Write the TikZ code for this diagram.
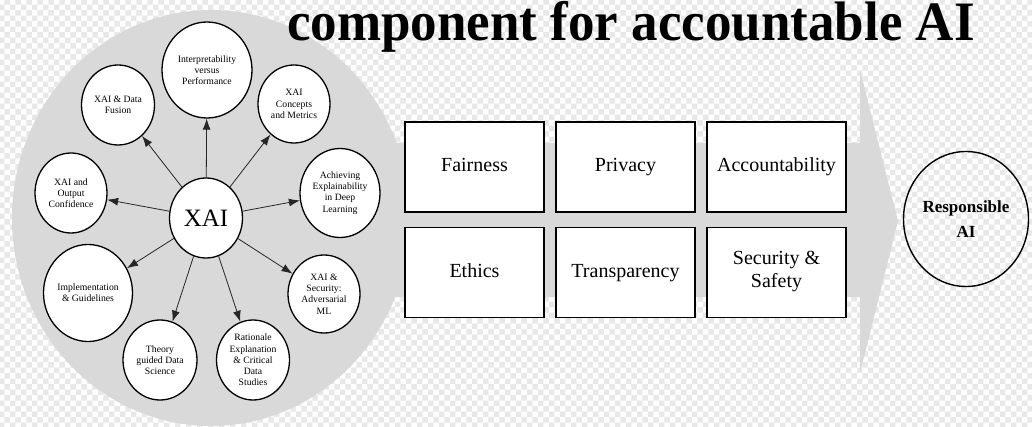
\documentclass[tikz,border=0pt]{standalone}
\usepackage{fontspec}
\setmainfont{Liberation Serif}
\usetikzlibrary{shapes.geometric,arrows.meta,patterns}

\begin{document}
\begin{tikzpicture}[x=1pt,y=-1pt,
backdrop/.style={pattern=checkerboard,pattern color=black!9},
band/.style={fill=black!15},
topic/.style={ellipse,draw=black,line width=1.3pt,fill=white,inner sep=0pt,align=center,font=\fontsize{9.7}{11.3}\selectfont},
hub/.style={ellipse,draw=black,line width=1.3pt,fill=white,inner sep=0pt,font=\fontsize{25}{28}\selectfont},
pillar/.style={draw=black,line width=1.4pt,fill=white,minimum width=139pt,minimum height=90pt,inner sep=0pt,align=center,font=\fontsize{20}{23}\selectfont,execute at begin node=\strut},
goal/.style={ellipse,draw=black,line width=1.4pt,minimum width=125pt,minimum height=135pt,inner sep=0pt,align=center,font=\bfseries\fontsize{17}{25}\selectfont},
link/.style={draw=black!85,line width=0.8pt,-{Latex[length=11pt,width=8pt]}}]
\path[use as bounding box] (0,0) rectangle (1032,427);
\fill[white] (0,0) rectangle (1032,427);
\fill[backdrop] (0,0) rectangle (1032,427);
% grey disc and the broad arrow leaving it
\fill[band] (300,143) -- (860,143) -- (860,70) -- (898,221) -- (860,373) -- (860,297) -- (300,297) -- cycle;
\fill[band] (211,218) ellipse [x radius=199, y radius=208];
% six pillars
\node[pillar] (fair) at (474.5,167) {Fairness};
\node[pillar] (priv) at (625.5,167) {Privacy};
\node[pillar] (acct) at (776.5,167) {Accountability};
\node[pillar] (ethic) at (474.5,272.5) {Ethics};
\node[pillar] (transp) at (625.5,272.5) {Transparency};
\node[pillar] (safe) at (776.5,272.5) {Security \&\\Safety};
% XAI and its topics
\node[hub,minimum width=73pt,minimum height=80pt] (xai) at (206,218) {XAI};
\node[topic,minimum width=90pt,minimum height=96pt] (interp) at (207,70) {Interpretability\\versus\\Performance};
\node[topic,minimum width=73pt,minimum height=80pt] (fusion) at (118,105) {XAI \& Data\\Fusion};
\node[topic,minimum width=72pt,minimum height=78pt] (metrics) at (294,104) {XAI\\Concepts\\and Metrics};
\node[topic,minimum width=72pt,minimum height=80pt] (conf) at (71,193) {XAI and\\Output\\Confidence};
\node[topic,minimum width=80pt,minimum height=89pt] (deep) at (340,193) {Achieving\\Explainability\\in Deep\\Learning};
\node[topic,minimum width=89pt,minimum height=97pt] (guide) at (88,293) {Implementation\\\& Guidelines};
\node[topic,minimum width=72pt,minimum height=78pt] (advml) at (324,294) {XAI \&\\Security:\\Adversarial\\ML};
\node[topic,minimum width=74pt,minimum height=80pt] (theory) at (160,360) {Theory\\guided Data\\Science};
\node[topic,minimum width=73pt,minimum height=80pt] (ration) at (253,360) {Rationale\\Explanation\\\& Critical\\Data\\Studies};
\foreach \t in {interp,fusion,metrics,conf,deep,guide,advml,theory,ration}
  \draw[link] (xai) -- (\t);
% end point
\node[goal] (resp) at (966,219) {Responsible\\AI};
\node[anchor=base west,inner sep=0pt,font=\bfseries\fontsize{53}{60}\selectfont] (title) at (287,41) {\scalebox{1}[1.05]{component for accountable AI}};
\end{tikzpicture}
\end{document}
